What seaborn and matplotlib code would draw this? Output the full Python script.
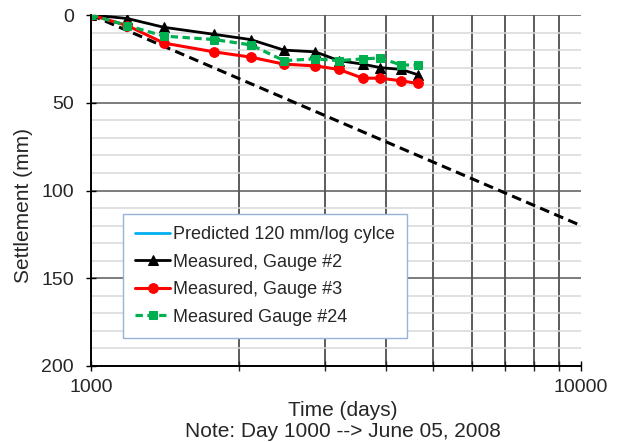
import matplotlib
matplotlib.use("Agg")
import matplotlib.pyplot as plt
import seaborn as sns
import pandas as pd
from matplotlib.lines import Line2D
from matplotlib.ticker import FixedLocator, LogLocator, MultipleLocator, NullFormatter

# values
days = [1000, 1186, 1408, 1783, 2118, 2476, 2869, 3204, 3586, 3896, 4294, 4642]
gauge2 = [0, 2, 7, 11, 14, 20, 21, 26, 28, 30, 31, 34]
gauge3 = [0, 6, 16, 21, 24, 28, 29, 31, 36, 36, 37.5, 39]
gauge24 = [0, 6, 12, 14, 17, 26, 25, 26, 25, 24.5, 28.5, 28.5]

pred_days = [1000, 10000]
pred_mm = [0, 120]

x_ticks = [1000, 10000]
x_tick_labels = ["1000", "10000"]
y_ticks = [0, 50, 100, 150, 200]

df = pd.DataFrame({"days": days, "g2": gauge2, "g3": gauge3, "g24": gauge24})
pred = pd.DataFrame({"days": pred_days, "mm": pred_mm})

sns.set_style("white")
plt.rcParams["font.family"] = ["Liberation Sans", "DejaVu Sans"]

fig = plt.figure(figsize=(6.2, 4.42), dpi=100)
ax = fig.add_axes([91 / 620, 1 - 366 / 442, 490 / 620, 351 / 442])

# predicted line (drawn black dashed, legend shows it in blue)
sns.lineplot(data=pred, x="days", y="mm", color="black", linewidth=2.2, ax=ax, legend=False)
ax.lines[-1].set_dashes([3.2, 1.8])

sns.lineplot(data=df, x="days", y="g2", color="black", linewidth=2, marker="^",
             markersize=7.5, markeredgecolor="black", label="Measured, Gauge #2", ax=ax)
sns.lineplot(data=df, x="days", y="g3", color="#ff0000", linewidth=2.2, marker="o",
             markersize=7, markeredgecolor="#ff0000", label="Measured, Gauge #3", ax=ax)
sns.lineplot(data=df, x="days", y="g24", color="#00b050", linewidth=2.3, marker="s",
             markersize=6, markeredgecolor="#00b050", label="Measured Gauge #24", ax=ax)
ax.lines[-1].set_dashes([2.3, 1.4])

ax.set_xscale("log")
ax.set_xlim(1000, 10000)
ax.set_ylim(200, 0)

ax.xaxis.set_major_locator(FixedLocator(x_ticks))
ax.set_xticklabels(x_tick_labels)
ax.xaxis.set_minor_locator(LogLocator(base=10, subs=range(2, 10)))
ax.xaxis.set_minor_formatter(NullFormatter())
ax.set_yticks(y_ticks)
ax.yaxis.set_minor_locator(MultipleLocator(10))

# excel-style grid
ax.grid(False)
ax.grid(which="minor", axis="x", color="#303030", linewidth=1.1)
ax.grid(which="major", axis="y", color="#595959", linewidth=1.1)
ax.grid(which="minor", axis="y", color="#d9d9d9", linewidth=1.1)
ax.set_axisbelow(True)

for s in ["top", "right"]:
    ax.spines[s].set_visible(False)
for s in ["left", "bottom"]:
    ax.spines[s].set_color("black")
    ax.spines[s].set_linewidth(1.4)

ax.tick_params(axis="both", which="major", labelsize=14, direction="inout", length=7,
               width=1, color="black", left=True, bottom=True)
ax.tick_params(axis="x", which="major", pad=6)
ax.tick_params(axis="y", which="major", pad=9)
ax.tick_params(axis="x", which="minor", direction="inout", length=7, width=1, bottom=True)
ax.tick_params(axis="y", which="minor", length=0)

ax.set_xlabel("Time (days)\nNote: Day 1000 --> June 05, 2008", fontsize=15, linespacing=1.1)
ax.xaxis.set_label_coords(0.514, -0.1)
ax.set_ylabel("Settlement (mm)", fontsize=15)
ax.yaxis.set_label_coords(-0.118, 0.456)

handles, labels = ax.get_legend_handles_labels()
handles = [Line2D([], [], color="#00b0f0", linewidth=2)] + handles
labels = ["Predicted 120 mm/log cylce"] + labels
leg = ax.legend(handles, labels, loc="lower left", bbox_to_anchor=(0.065, 0.08),
                fontsize=13, frameon=True, fancybox=False, framealpha=1,
                handlelength=1.95, handletextpad=0.15, borderpad=0.68,
                labelspacing=0.58, borderaxespad=0)
leg.get_frame().set_edgecolor("#95b3d7")
leg.get_frame().set_linewidth(1)

fig.savefig("out.png", dpi=100)
